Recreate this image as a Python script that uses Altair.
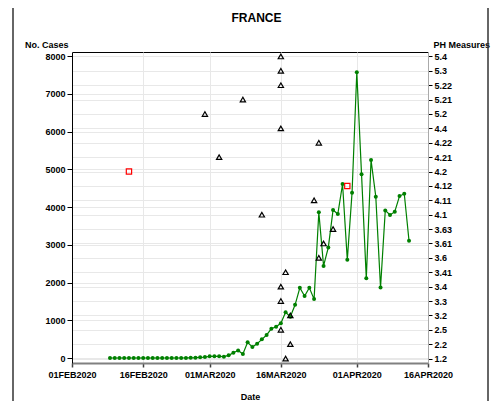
import altair as alt
import pandas as pd

FONT = "Liberation Sans"

# Daily new cases, 09FEB2020 .. 12APR2020
case_dates = pd.date_range("2020-02-09", "2020-04-12").strftime("%Y-%m-%d").tolist()
case_values = [
    0, 0, 0, 0, 0, 0, 0, 0, 0, 0, 0, 0, 0, 0, 0, 0, 2,
    4, 8, 18, 26, 44, 44, 44, 35,
    70, 140, 200, 105, 415, 290, 380, 495, 610, 775, 830, 920,
    1210, 1095, 1410, 1860, 1640, 1860, 1560,
    3860, 2440, 2930, 3920, 3815, 4610, 2600, 4380,
    7570, 4865, 2110, 5245, 4275, 1870, 3910, 3790, 3875, 4290, 4350, 3105,
]

# Public-health measures (right axis)
measure_levels = ["5.4", "5.3", "5.22", "5.21", "5.2", "4.4", "4.22", "4.21", "4.2",
                  "4.12", "4.11", "4.1", "3.63", "3.61", "3.6", "3.41", "3.4", "3.3",
                  "3.2", "2.5", "2.2", "1.2"]
measure_dates = ["2020-02-13", "2020-02-29", "2020-03-03", "2020-03-08", "2020-03-12",
                 "2020-03-16", "2020-03-16", "2020-03-16", "2020-03-16", "2020-03-16",
                 "2020-03-16", "2020-03-16", "2020-03-17", "2020-03-17", "2020-03-18",
                 "2020-03-18", "2020-03-23", "2020-03-24", "2020-03-24", "2020-03-25",
                 "2020-03-27", "2020-03-30"]
measure_codes = ["4.2", "5.2", "4.21", "5.21", "4.1",
                 "5.4", "5.3", "5.22", "4.4", "3.4",
                 "3.3", "2.5", "3.41", "1.2", "3.2",
                 "2.2", "4.11", "4.22", "3.6", "3.61",
                 "3.63", "4.12"]
measure_kinds = ["sq", "tri", "tri", "tri", "tri",
                 "tri", "tri", "tri", "tri", "tri",
                 "tri", "tri", "tri", "tri", "tri",
                 "tri", "tri", "tri", "tri", "tri",
                 "tri", "sq"]

chart_title = "FRANCE"

df_cases = pd.DataFrame({"date": case_dates, "cases": case_values})
df_meas = pd.DataFrame({"date": measure_dates, "measure": measure_codes, "kind": measure_kinds})
dummy = pd.DataFrame({"k": [0]})

tick_dates = [alt.DateTime(year=2020, month=m, date=d, utc=True)
              for m, d in [(2, 1), (2, 16), (3, 1), (3, 16), (4, 1), (4, 16)]]
x_scale = alt.Scale(type="utc", domain=[tick_dates[0], tick_dates[-1]])

x_enc = alt.X(
    "date:T", scale=x_scale,
    axis=alt.Axis(
        values=tick_dates,
        labelExpr="utcFormat(datum.value, '%d') + upper(utcFormat(datum.value, '%b')) + utcFormat(datum.value, '%Y')",
        title="Date", grid=True, domainColor="#808080", domainWidth=2,
        tickColor="#404040", tickWidth=1.5, tickSize=4, labelPadding=3,
        titleY=36, titleBaseline="alphabetic", labelFlush=False, labelOverlap=False,
    ),
)

line = alt.Chart(df_cases).mark_line(
    color="#008000", strokeWidth=1.2,
    point=alt.OverlayMarkDef(color="#008000", size=16, filled=True, opacity=1),
).encode(
    x=x_enc,
    y=alt.Y(
        "cases:Q",
        scale=alt.Scale(domain=[-132, 8106], nice=False, zero=False),
        axis=alt.Axis(
            values=list(range(0, 8001, 1000)), format="d", title="No. Cases", orient="left",
            domainColor="black", tickColor="black", tickSize=5, labelPadding=2,
            titleAngle=0, titleAlign="right", titleX=-4, titleY=-5,
            titleBaseline="alphabetic", grid=True,
        ),
    ),
)

meas = alt.Chart(df_meas).mark_point(size=28, strokeWidth=1.2, filled=False, opacity=1).encode(
    x=alt.X("date:T", scale=x_scale),
    y=alt.Y(
        "measure:O",
        scale=alt.Scale(type="point", domain=measure_levels, padding=0.31),
        axis=alt.Axis(
            orient="right", title="PH Measures", domainColor="#aaaaaa",
            tickColor="black", tickSize=4, labelPadding=2, grid=True,
            titleAngle=0, titleAlign="left", titleX=5, titleY=-5,
            titleBaseline="alphabetic",
        ),
    ),
    shape=alt.Shape("kind:N", scale=alt.Scale(domain=["tri", "sq"], range=["triangle-up", "square"]), legend=None),
    color=alt.Color("kind:N", scale=alt.Scale(domain=["tri", "sq"], range=["black", "#ff0000"]), legend=None),
)

title_text = alt.Chart(dummy).mark_text(
    text=chart_title, font=FONT, fontSize=12, fontWeight="bold", color="black",
    align="center", baseline="alphabetic",
).encode(x=alt.value(184.5), y=alt.value(-30))

frame_left = alt.Chart(dummy).mark_rule(color="#333333", strokeWidth=1.5).encode(
    x=alt.value(-59), y=alt.value(-47), y2=alt.value(360))
frame_right = alt.Chart(dummy).mark_rule(color="#333333", strokeWidth=1.5).encode(
    x=alt.value(416), y=alt.value(-47), y2=alt.value(360))
frame_top = alt.Chart(dummy).mark_rule(color="#333333", strokeWidth=1.5).encode(
    x=alt.value(-59), x2=alt.value(416), y=alt.value(-47))

chart = alt.layer(line, meas, title_text, frame_left, frame_right, frame_top).resolve_scale(
    y="independent"
).properties(
    width=356, height=311,
    autosize=alt.AutoSizeParams(type="none"),
    padding={"left": 64, "top": 44, "right": 64, "bottom": 38},
).configure_view(
    stroke="black", strokeWidth=1
).configure_axis(
    labelFont=FONT, titleFont=FONT, labelFontSize=9, titleFontSize=9,
    labelFontWeight="bold", titleFontWeight="bold", labelColor="black",
    titleColor="black", gridColor="#e8e8e8", gridWidth=1,
)

chart.save("out.html", embed_options={"renderer": "svg", "actions": False})
